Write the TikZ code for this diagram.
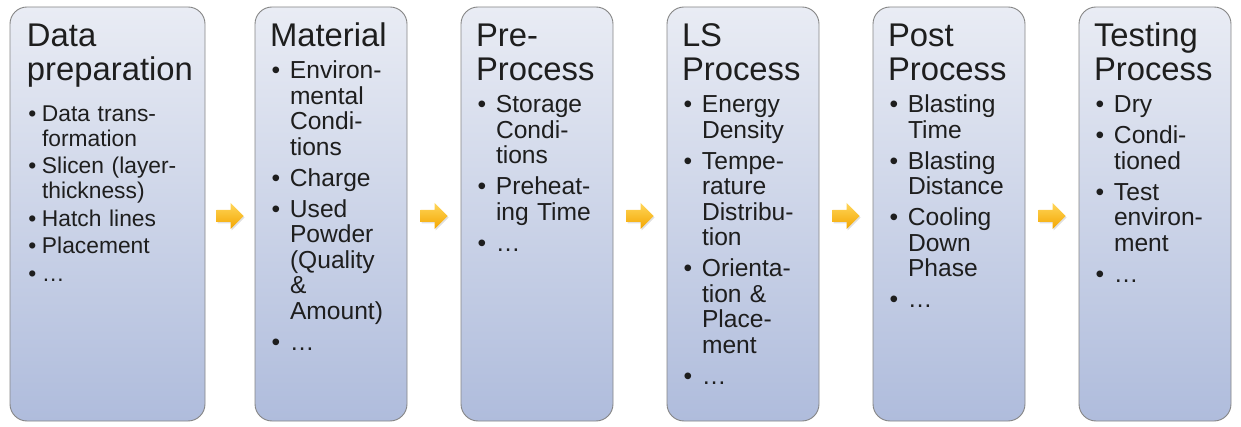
\documentclass[tikz,border=0pt]{standalone}
\usepackage{fontspec}
\setmainfont{Liberation Sans}
\usepackage{tikz}
\usetikzlibrary{positioning,calc}

\definecolor{boxtop}{HTML}{E9ECF4}
\definecolor{boxbot}{HTML}{AFBCDC}
\definecolor{boxline}{HTML}{858585}
\definecolor{arrtop}{HTML}{FFD65A}
\definecolor{arrbot}{HTML}{F3A600}
\definecolor{ink}{HTML}{1E1E1E}

\newlength\bulhang
\newcommand\bul[1]{\par\hangindent=\bulhang\hangafter=1\noindent
  \makebox[\bulhang][l]{\hspace{1.5pt}•}#1}
\newcommand\stagetitle[2]{\noindent{\fontsize{32.8}{34}\selectfont\rule{0pt}{24pt}#1\par}\vspace{#2}}

\begin{document}
\begin{tikzpicture}[
  stage/.style={draw=boxline, line width=0.9pt, rounded corners=17pt,
                top color=boxtop, bottom color=boxbot, minimum width=152pt,
                minimum height=414pt, inner sep=0pt, outer sep=0pt},
  stagetext/.style={inner sep=0pt, outer sep=0pt, text width=135pt, align=left,
                    text=ink, font=\fontsize{24.6}{25.5}\selectfont,
                    execute at begin node={\setlength\parskip{5.5pt}\setlength\bulhang{20pt}}},
  firsttext/.style={stagetext, text width=175pt, font=\fontsize{22.8}{24.5}\selectfont,
                    execute at begin node={\setlength\parskip{3.25pt}\setlength\bulhang{15pt}}},
  nextstep/.pic={
    \fill[black, opacity=.12] (-12.5pt,-7.5pt) -- (1.5pt,-7.5pt) -- (1.5pt,-14.5pt)
      -- (14.5pt,-1.5pt) -- (1.5pt,11.5pt) -- (1.5pt,4.5pt) -- (-12.5pt,4.5pt) -- cycle;
    \shade[top color=arrtop, bottom color=arrbot] (-13.5pt,-6pt) -- (0.5pt,-6pt)
      -- (0.5pt,-13pt) -- (13.5pt,0pt) -- (0.5pt,13pt) -- (0.5pt,6pt) -- (-13.5pt,6pt) -- cycle;
  }
]
\useasboundingbox (0pt,0pt) rectangle (1241pt,-427pt);

\node[stage, minimum width=195pt, anchor=north west] (prep) at (10pt,-7pt) {};
\node[stage, right=50pt of prep] (mat) {};
\node[stage, right=54pt of mat] (pre) {};
\node[stage, right=54pt of pre] (ls) {};
\node[stage, right=54pt of ls] (post) {};
\node[stage, right=54pt of post] (test) {};

\node[firsttext, below right=16pt and 17pt of prep.north west] (prep-t) {%
  \stagetitle{Data\newline preparation}{13pt}
  \bul{Data trans-\newline formation}
  \bul{Slicen (layer-\newline thickness)}
  \bul{Hatch lines}
  \bul{Placement}
  \bul{…}};
\node[stagetext, below right=16pt and 15pt of mat.north west] (mat-t) {%
  \stagetitle{Material}{1pt}
  \bul{Environ-\newline mental\newline Condi-\newline tions}
  \bul{Charge}
  \bul{Used\newline Powder\newline (Quality\newline \&\newline Amount)}
  \bul{…}};
\node[stagetext, below right=16pt and 15pt of pre.north west] (pre-t) {%
  \stagetitle{Pre-\newline Process}{1pt}
  \bul{Storage\newline Condi-\newline tions}
  \bul{Preheat-\newline ing Time}
  \bul{…}};
\node[stagetext, below right=16pt and 15pt of ls.north west] (ls-t) {%
  \stagetitle{LS\newline Process}{1pt}
  \bul{Energy\newline Density}
  \bul{Tempe-\newline rature\newline Distribu-\newline tion}
  \bul{Orienta-\newline tion \&\newline Place-\newline ment}
  \bul{…}};
\node[stagetext, below right=16pt and 15pt of post.north west] (post-t) {%
  \stagetitle{Post\newline Process}{1pt}
  \bul{Blasting\newline Time}
  \bul{Blasting\newline Distance}
  \bul{Cooling\newline Down\newline Phase}
  \bul{…}};
\node[stagetext, below right=16pt and 15pt of test.north west] (test-t) {%
  \stagetitle{Testing\newline Process}{1pt}
  \bul{Dry}
  \bul{Condi-\newline tioned}
  \bul{Test\newline environ-\newline ment}
  \bul{…}};

\pic at ($(prep.east)!0.5!(mat.west)+(0,-2pt)$) {nextstep};
\pic at ($(mat.east)!0.5!(pre.west)+(0,-2pt)$) {nextstep};
\pic at ($(pre.east)!0.5!(ls.west)+(0,-2pt)$) {nextstep};
\pic at ($(ls.east)!0.5!(post.west)+(0,-2pt)$) {nextstep};
\pic at ($(post.east)!0.5!(test.west)+(0,-2pt)$) {nextstep};
\end{tikzpicture}
\end{document}
